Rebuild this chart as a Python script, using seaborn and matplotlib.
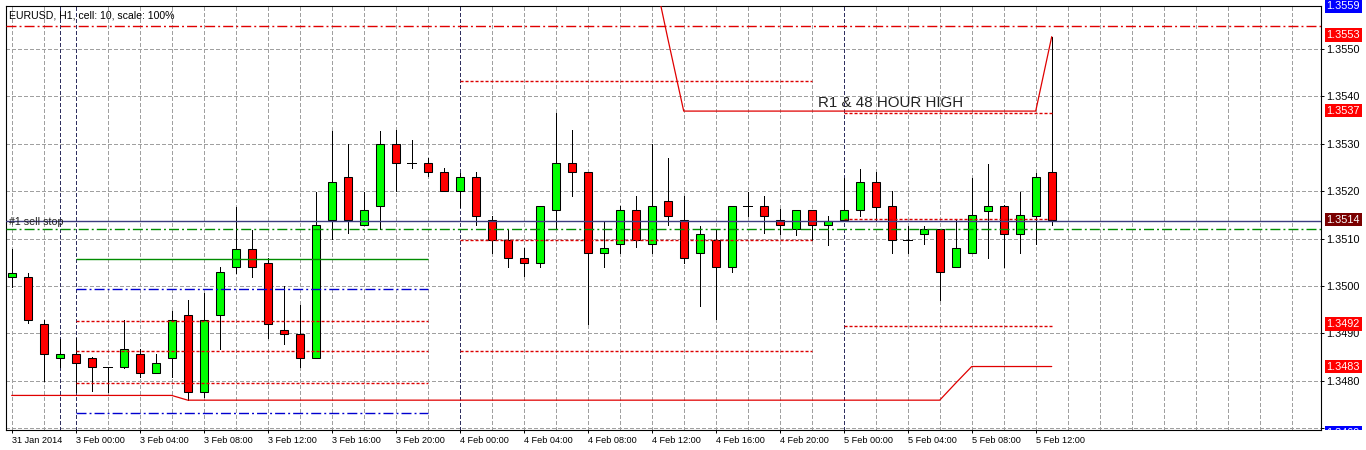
import numpy as np
import pandas as pd
import matplotlib
matplotlib.use("Agg")
import matplotlib.pyplot as plt
from matplotlib.transforms import Bbox
import seaborn as sns

# ---------------- data ----------------
chart_title = "EURUSD, H1, cell: 10, scale: 100%"

opens = [1.35018, 1.35018, 1.34919, 1.34849, 1.34857, 1.34849, 1.34828, 1.34828, 1.34857, 1.34817,
         1.34849, 1.34938, 1.34777, 1.34938, 1.35039, 1.35079, 1.35048, 1.34908, 1.34898, 1.34849,
         1.35139, 1.35229, 1.35128, 1.35168, 1.35300, 1.35259, 1.35259, 1.35240, 1.35200, 1.35229,
         1.35139, 1.35098, 1.35058, 1.35048, 1.35160, 1.35259, 1.35240, 1.35069, 1.35088, 1.35160,
         1.35088, 1.35179, 1.35139, 1.35069, 1.35098, 1.35039, 1.35168, 1.35168, 1.35139, 1.35120,
         1.35160, 1.35128, 1.35139, 1.35160, 1.35219, 1.35168, 1.35098, 1.35109, 1.35120, 1.35039,
         1.35069, 1.35159, 1.35169, 1.35109, 1.35148, 1.35240]
highs = [1.35078, 1.35028, 1.34929, 1.34888, 1.34891, 1.34850, 1.34830, 1.34928, 1.34868, 1.34856,
         1.34947, 1.34970, 1.34986, 1.35039, 1.35166, 1.35119, 1.35060, 1.35000, 1.34959, 1.35198,
         1.35326, 1.35300, 1.35198, 1.35326, 1.35329, 1.35308, 1.35269, 1.35248, 1.35238, 1.35241,
         1.35148, 1.35118, 1.35080, 1.35169, 1.35366, 1.35329, 1.35241, 1.35138, 1.35168, 1.35190,
         1.35299, 1.35269, 1.35190, 1.35127, 1.35120, 1.35169, 1.35199, 1.35190, 1.35162, 1.35160,
         1.35161, 1.35148, 1.35228, 1.35247, 1.35241, 1.35200, 1.35127, 1.35127, 1.35121, 1.35139,
         1.35228, 1.35257, 1.35170, 1.35199, 1.35238, 1.35526]
lows = [1.34998, 1.34921, 1.34800, 1.34828, 1.34777, 1.34778, 1.34777, 1.34827, 1.34808, 1.34816,
        1.34807, 1.34759, 1.34766, 1.34866, 1.35028, 1.35019, 1.34891, 1.34878, 1.34829, 1.34848,
        1.35099, 1.35111, 1.35128, 1.35120, 1.35200, 1.35248, 1.35231, 1.35200, 1.35167, 1.35129,
        1.35070, 1.35041, 1.35020, 1.35039, 1.35120, 1.35190, 1.34920, 1.35039, 1.35069, 1.35082,
        1.35069, 1.35129, 1.35049, 1.34958, 1.34930, 1.35029, 1.35148, 1.35111, 1.35110, 1.35108,
        1.35097, 1.35087, 1.35138, 1.35148, 1.35139, 1.35070, 1.35069, 1.35088, 1.34970, 1.35039,
        1.35069, 1.35058, 1.35041, 1.35069, 1.35088, 1.35129]
closes = [1.35028, 1.34929, 1.34857, 1.34857, 1.34838, 1.34828, 1.34828, 1.34868, 1.34817, 1.34838,
          1.34929, 1.34777, 1.34929, 1.35029, 1.35079, 1.35039, 1.34919, 1.34898, 1.34849, 1.35128,
          1.35219, 1.35139, 1.35160, 1.35300, 1.35259, 1.35259, 1.35240, 1.35200, 1.35229, 1.35148,
          1.35098, 1.35058, 1.35048, 1.35168, 1.35259, 1.35240, 1.35069, 1.35080, 1.35160, 1.35098,
          1.35168, 1.35148, 1.35058, 1.35109, 1.35039, 1.35168, 1.35168, 1.35148, 1.35128, 1.35160,
          1.35128, 1.35138, 1.35160, 1.35219, 1.35167, 1.35098, 1.35098, 1.35120, 1.35029, 1.35080,
          1.35150, 1.35169, 1.35109, 1.35150, 1.35229, 1.35140]

time_labels = ["31 Jan 2014", "3 Feb 00:00", "3 Feb 04:00", "3 Feb 08:00", "3 Feb 12:00",
               "3 Feb 16:00", "3 Feb 20:00", "4 Feb 00:00", "4 Feb 04:00", "4 Feb 08:00",
               "4 Feb 12:00", "4 Feb 16:00", "4 Feb 20:00", "5 Feb 00:00", "5 Feb 04:00",
               "5 Feb 08:00", "5 Feb 12:00"]
time_label_bars = [0, 4, 8, 12, 16, 20, 24, 28, 32, 36, 40, 44, 48, 52, 56, 60, 64]
day_separator_bars = [3, 4, 28, 52]

# 48-hour low indicator (all bars) and 48-hour high indicator (visible part)
low48_bars = list(range(0, 66))
low48_values = [1.34769] * 11 + [1.34759] * 48 + [1.34795] + [1.34830] * 6
high48_bars = list(range(40, 66))
high48_values = [1.35682, 1.35523] + [1.35369] * 23 + [1.35526]

# full-width horizontal lines
line_red_top = 1.35549
line_sell_stop = 1.35138
line_green_level = 1.35120

# daily pivot segments
feb3_start, feb3_end = 4, 26
feb3_green = 1.35056
feb3_blue = [1.34994, 1.34731]
feb3_red = [1.34925, 1.34862, 1.34795]
feb4_start, feb4_end = 28, 50
feb4_red = [1.35432, 1.35097, 1.34863]
feb5_start, feb5_end = 52, 65
feb5_red = [1.35366, 1.35142, 1.34916]

price_ticks = [1.3470, 1.3480, 1.3490, 1.3500, 1.3510, 1.3520, 1.3530, 1.3540, 1.3550]
price_tick_labels = ["", "1.3480", "1.3490", "1.3500", "1.3510", "1.3520", "1.3530", "1.3540", "1.3550"]
tag_values = [1.3559, 1.3553, 1.3537, 1.3514, 1.3492, 1.3483]
tag_texts = ["1.3559", "1.3553", "1.3537", "1.3514", "1.3492", "1.3483"]
bottom_tag_value = 1.3469
bottom_tag_text = "1.3469"

# ---------------- style ----------------
sns.set_style("white")
plt.rcParams['font.family'] = ['Liberation Sans', 'DejaVu Sans']
plt.rcParams['lines.scale_dashes'] = False

W, H = 1366, 450
fig = plt.figure(figsize=(W / 100, H / 100), dpi=100)
fig.patch.set_facecolor('white')
L, R, T, B = 6, 1321, 5.5, 429.5
ax = fig.add_axes([L / W, 1 - B / H, (R - L) / W, (B - T) / H])
ax.set_facecolor('white')

GRID = '#a0a0a0'
DASH_GRID = (0, (2.3, 2.0))
DOT = (0, (2.2, 1.4))
DASHDOT = (0, (7.2, 2.2, 1.4, 2.2))
RED = '#e00000'
DRED = '#dd0000'
NAVY = '#0000d0'
GREEN = '#008c00'
PX = 0.72   # one pixel in points
LV = 1.0    # level line width

idx = np.arange(len(opens))
o = np.array(opens); c = np.array(closes); h = np.array(highs); l = np.array(lows)
up = c > o
dn = c < o
eq = c == o

# candles
ax.vlines(idx, l, h, color='black', lw=PX, zorder=3, antialiased=False)
ax.bar(idx[up], (c - o)[up], bottom=o[up], width=0.5, color='#00ff00',
       edgecolor='black', linewidth=0.75, zorder=4)
ax.bar(idx[dn], (o - c)[dn], bottom=c[dn], width=0.5, color='#ff0000',
       edgecolor='black', linewidth=0.75, zorder=4)
ax.hlines(o[eq], idx[eq] - 0.27, idx[eq] + 0.27, color='black', lw=PX, zorder=4,
          antialiased=False)

# day separators
for b in day_separator_bars:
    ax.axvline(b, color='#303060', lw=PX, ls=(0, (2.3, 2.0)), zorder=2, antialiased=False)

# full width lines
ax.axhline(line_red_top, color=RED, lw=LV, ls=DASHDOT, zorder=5)
ax.axhline(line_sell_stop, color='#3c3c80', lw=LV, zorder=5)
ax.axhline(line_green_level, color=GREEN, lw=LV, ls=DASHDOT, zorder=5)

# pivot segments
ax.hlines(feb3_green, feb3_start, feb3_end, color=GREEN, lw=LV, zorder=5)
ax.hlines(feb3_blue, feb3_start, feb3_end, color=NAVY, lw=LV, ls=DASHDOT, zorder=5)
ax.hlines(feb3_red, feb3_start, feb3_end, color=DRED, lw=LV, ls=DOT, zorder=5)
ax.hlines(feb4_red, feb4_start, feb4_end, color=DRED, lw=LV, ls=DOT, zorder=5)
ax.hlines(feb5_red, feb5_start, feb5_end, color=DRED, lw=LV, ls=DOT, zorder=5)

# 48-hour high / low indicator lines
sns.lineplot(x=low48_bars, y=low48_values, ax=ax, color=RED, linewidth=0.9,
             estimator=None, legend=False, zorder=5)
sns.lineplot(x=high48_bars, y=high48_values, ax=ax, color=RED, linewidth=0.9,
             estimator=None, legend=False, zorder=5)

# axes limits & ticks
ax.set_xlim(-0.356, 81.83)
ax.set_ylim(1.346971, 1.355918)
ax.set_xlabel("")
ax.set_ylabel("")
ax.set_xticks(time_label_bars, labels=time_labels, ha='left', fontsize=6.6)
ax.set_xticks(np.arange(0, 82, 2), minor=True)
ax.yaxis.tick_right()
ax.set_yticks(price_ticks, labels=price_tick_labels, fontsize=7.8)
ax.tick_params(axis='x', which='major', direction='out', length=2.5, width=0.7, pad=2.5,
               colors='black', bottom=True)
ax.tick_params(axis='x', which='minor', length=0)
ax.tick_params(axis='y', direction='out', length=2.5, width=0.7, pad=1.5, right=True,
               colors='black')
ax.grid(True, which='both', color=GRID, linestyle=DASH_GRID, linewidth=PX, antialiased=False)
ax.set_axisbelow(True)
for s in ax.spines.values():
    s.set_visible(True)
    s.set_color('black')
    s.set_linewidth(0.8)

# price tags on the right scale
tag_colors = ['#0000ff', '#ff0000', '#ff0000', '#7a0000', '#ff0000', '#ff0000']
ytr = ax.get_yaxis_transform()
tag_x = 1.0042
for v, t, col in zip(tag_values, tag_texts, tag_colors):
    ax.text(tag_x, v, t, transform=ytr, ha='left', va='center', fontsize=7.8, color='white',
            bbox=dict(boxstyle='square,pad=0.16', fc=col, ec='none'), clip_on=False, zorder=6)
bt = ax.text(tag_x, bottom_tag_value, bottom_tag_text, transform=ytr, ha='left', va='center',
             fontsize=7.8, color='white', bbox=dict(boxstyle='square,pad=0.16', fc='#0000ff', ec='none'),
             zorder=6)
bt.set_clip_on(True)
bt.set_clip_box(Bbox.from_extents(1300, H - 430, W, H))

# texts
ax.text(0.0023, 0.976, chart_title, transform=ax.transAxes, ha='left', va='center',
        fontsize=7.6, color='black', zorder=7)
ax.text(0.0023, 1.351276, "#1 sell stop", transform=ytr, ha='left', va='baseline',
        fontsize=7.7, color='#222222', zorder=7)
ax.text(0.6175, 1.35378, "R1 & 48 HOUR HIGH", transform=ytr, ha='left', va='baseline',
        fontsize=10.9, color='#222222', zorder=7)

fig.savefig("out.png", dpi=100, facecolor='white')
